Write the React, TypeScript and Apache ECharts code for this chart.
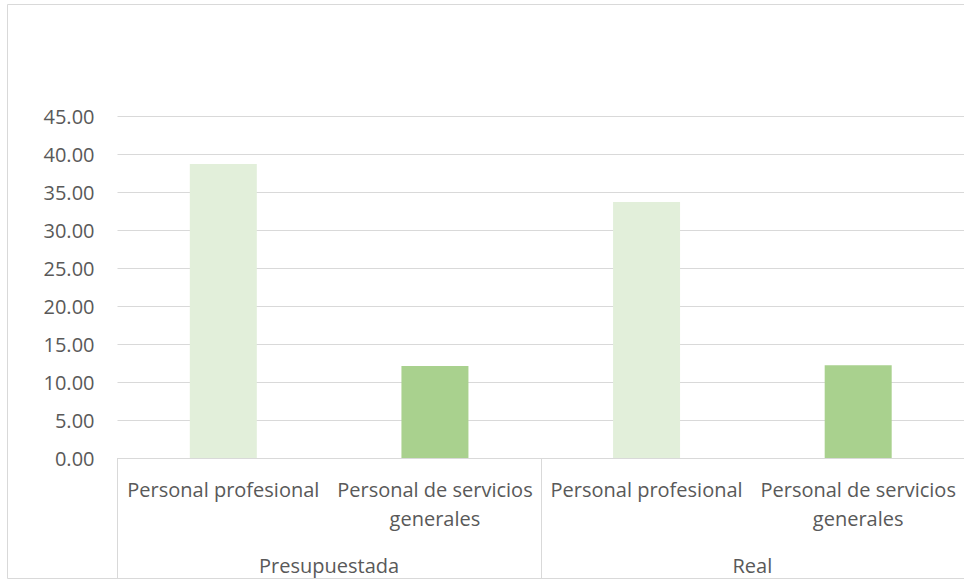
import React, { useEffect, useRef } from "react";
import * as echarts from "echarts";

const subCategories = [
  "Personal profesional",
  "Personal de servicios generales",
  "Personal profesional",
  "Personal de servicios generales",
];
const groupCategories = ["Presupuestada", "Real"];
const values = [38.7, 12.1, 33.7, 12.2];
const barColors = ["#E2EFDA", "#A9D18E", "#E2EFDA", "#A9D18E"];
const yTicks = { min: 0, max: 45, interval: 5 };

const FONT = "Open Sans";
const TEXT = "#595959";
const LINE = "#D9D9D9";

export default function App() {
  const ref = useRef<HTMLDivElement>(null);
  useEffect(() => {
    if (!ref.current) return;
    const chart = echarts.init(ref.current, null, { renderer: "svg" });
    chart.setOption({
      animation: false,
      backgroundColor: "#FFFFFF",
      grid: { left: 117.5, top: 116, width: 849, bottom: 123, containLabel: false },
      graphic: [
        {
          type: "rect",
          shape: { x: 7.5, y: 4.5, width: 970, height: 574 },
          style: { fill: "none", stroke: LINE, lineWidth: 1 },
          silent: true,
        },
      ],
      xAxis: [
        {
          type: "category",
          data: subCategories,
          position: "bottom",
          axisLine: { show: true, lineStyle: { color: LINE, width: 1 } },
          axisTick: { show: false },
          axisLabel: {
            interval: 0,
            color: TEXT,
            fontFamily: FONT,
            fontSize: 20,
            lineHeight: 29,
            margin: 17,
            formatter: (v: string) => v.replace("servicios ", "servicios\n"),
          },
          splitLine: { show: false },
        },
        {
          type: "category",
          data: groupCategories,
          position: "bottom",
          axisLine: { show: false },
          axisTick: { show: true, length: 121, lineStyle: { color: LINE, width: 1 } },
          axisLabel: {
            interval: 0,
            color: TEXT,
            fontFamily: FONT,
            fontSize: 20,
            lineHeight: 29,
            margin: 92.5,
          },
          splitLine: { show: false },
        },
      ],
      yAxis: {
        type: "value",
        min: yTicks.min,
        max: yTicks.max,
        interval: yTicks.interval,
        axisLine: { show: false },
        axisTick: { show: false },
        axisLabel: {
          color: TEXT,
          fontFamily: FONT,
          fontSize: 20,
          margin: 23,
          formatter: (v: number) => v.toFixed(2),
        },
        splitLine: { lineStyle: { color: LINE, width: 1 } },
      },
      series: [
        {
          type: "bar",
          xAxisIndex: 0,
          barWidth: 67,
          data: values.map((v, i) => ({ value: v, itemStyle: { color: barColors[i] } })),
        },
      ],
    });
    return () => chart.dispose();
  }, []);
  return (
    <div
      ref={ref}
      style={{ position: "absolute", left: 0, top: 0, width: 964, height: 581 }}
    />
  );
}
